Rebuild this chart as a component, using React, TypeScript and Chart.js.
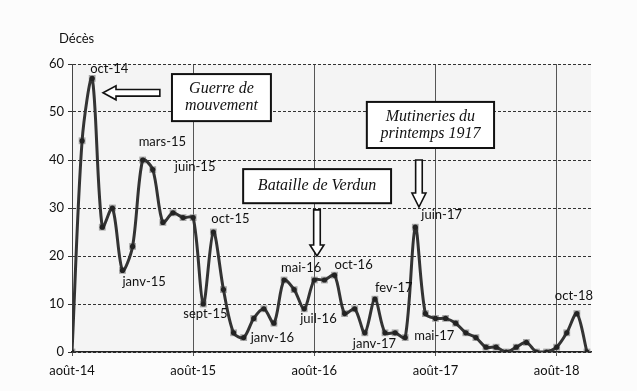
import React, { useEffect, useRef } from "react";
import { Chart, registerables } from "chart.js";
Chart.register(...registerables);

const MONTH_NAMES = ["août", "sept", "oct", "nov", "déc", "janv", "févr", "mars", "avr", "mai", "juin", "juil"];
const START_YEAR = 14;
const MONTHS: string[] = Array.from({ length: 52 }, (_, i) => {
  const m = i % 12;
  const yr = START_YEAR + Math.floor((i + 7) / 12);
  return `${MONTH_NAMES[m]}-${yr}`;
});

const DEATHS = [
  0, 44, 57, 26, 30, 17, 22, 40, 38, 27,
  29, 28, 28, 10, 25, 13, 4, 3, 7, 9,
  6, 15, 13, 9, 15, 15, 16, 8, 9, 4,
  11, 4, 4, 3, 26, 8, 7, 7, 6, 4,
  3, 1, 1, 0, 1, 2, 0, 0, 1, 4,
  8, 0,
];

const Y_TICKS = [0, 10, 20, 30, 40, 50, 60];
const Y_TITLE = "Décès";

const POINT_LABELS = [
  { i: 2, text: "oct-14" },
  { i: 7, text: "mars-15" },
  { i: 8, text: "juin-15" },
  { i: 5, text: "janv-15" },
  { i: 13, text: "sept-15" },
  { i: 14, text: "oct-15" },
  { i: 17, text: "janv-16" },
  { i: 21, text: "mai-16" },
  { i: 23, text: "juil-16" },
  { i: 26, text: "oct-16" },
  { i: 30, text: "fev-17" },
  { i: 29, text: "janv-17" },
  { i: 33, text: "mai-17" },
  { i: 34, text: "juin-17" },
  { i: 50, text: "oct-18" },
];

// label offsets (px) relative to the anchored point, left-aligned text
const LABEL_OFFSETS: Record<number, [number, number]> = {
  2: [-2, -10], 7: [-4, -18], 8: [22, -3], 5: [0, 11], 13: [-20, 10],
  14: [-2, -13], 17: [7, 0], 21: [-3, -12], 23: [-4, 10], 26: [0, -10],
  30: [0, -11], 29: [-12, 11], 33: [9, -2], 34: [6, -12], 50: [-22, -18],
};

const ANNOTATION_TEXTS = [["Guerre de", "mouvement"], ["Bataille de Verdun"], ["Mutineries du", "printemps 1917"]];
// boxes in data coordinates (x index, y value)
const BOXES = [
  { x0: 9.9, x1: 19.7, y0: 57.9, y1: 48.1 },
  { x0: 16.95, x1: 31.6, y0: 38.1, y1: 31.0 },
  { x0: 29.2, x1: 41.8, y0: 52.1, y1: 42.5 },
];
const ARROWS = [
  { tx: 8.7, ty: 54.0, px: 3.07, py: 54.0, hl: 13 },
  { tx: 24.26, ty: 29.6, px: 24.26, py: 20.0, hl: 11 },
  { tx: 34.36, ty: 40.0, px: 34.36, py: 30.2, hl: 14 },
];

const LABEL_FONT = "13px Lato";
const BOX_FONT = "italic 16px 'Liberation Serif'";

const decor = {
  id: "decor",
  beforeDraw(chart: any) {
    const { ctx, chartArea: a, width, height } = chart;
    ctx.save();
    ctx.fillStyle = "#fcfcfc";
    ctx.fillRect(0, 0, width, height);
    ctx.fillStyle = "#f4f4f4";
    ctx.fillRect(a.left, a.top, a.right - a.left, a.bottom - a.top);
    ctx.restore();
  },
  afterDraw(chart: any) {
    const { ctx } = chart;
    const xs = chart.scales.x;
    const ys = chart.scales.y;
    ctx.save();
    // title
    ctx.font = "13px Lato";
    ctx.fillStyle = "#111";
    ctx.textAlign = "left";
    ctx.textBaseline = "middle";
    ctx.fillText(Y_TITLE, 59, 39);

    // point labels
    ctx.font = LABEL_FONT;
    POINT_LABELS.forEach((l) => {
      const px = xs.getPixelForValue(l.i);
      const py = ys.getPixelForValue(DEATHS[l.i]);
      const [dx, dy] = LABEL_OFFSETS[l.i];
      ctx.fillText(l.text, px + dx, py + dy);
    });

    // boxes
    BOXES.forEach((b, k) => {
      const x0 = xs.getPixelForValue(b.x0);
      const x1 = xs.getPixelForValue(b.x1);
      const y0 = ys.getPixelForValue(b.y0);
      const y1 = ys.getPixelForValue(b.y1);
      ctx.fillStyle = "#ffffff";
      ctx.fillRect(x0, y0, x1 - x0, y1 - y0);
      ctx.strokeStyle = "#111";
      ctx.lineWidth = 2;
      ctx.strokeRect(x0, y0, x1 - x0, y1 - y0);
      ctx.fillStyle = "#111";
      ctx.font = BOX_FONT;
      ctx.textAlign = "center";
      const lines = ANNOTATION_TEXTS[k];
      const cx = (x0 + x1) / 2;
      const cy = (y0 + y1) / 2;
      lines.forEach((t, j) => {
        ctx.fillText(t, cx, cy + (j - (lines.length - 1) / 2) * 17);
      });
    });

    // arrows
    ARROWS.forEach((ar) => {
      const tx = xs.getPixelForValue(ar.tx);
      const ty = ys.getPixelForValue(ar.ty);
      const px = xs.getPixelForValue(ar.px);
      const py = ys.getPixelForValue(ar.py);
      const len = Math.hypot(px - tx, py - ty);
      const dx = (px - tx) / len;
      const dy = (py - ty) / len;
      const nx = -dy;
      const ny = dx;
      const sw = 3.3;
      const hw = 7;
      const bx = px - dx * ar.hl;
      const by = py - dy * ar.hl;
      ctx.beginPath();
      ctx.moveTo(tx + nx * sw, ty + ny * sw);
      ctx.lineTo(bx + nx * sw, by + ny * sw);
      ctx.lineTo(bx + nx * hw, by + ny * hw);
      ctx.lineTo(px, py);
      ctx.lineTo(bx - nx * hw, by - ny * hw);
      ctx.lineTo(bx - nx * sw, by - ny * sw);
      ctx.lineTo(tx - nx * sw, ty - ny * sw);
      ctx.closePath();
      ctx.fillStyle = "#ffffff";
      ctx.fill();
      ctx.strokeStyle = "#111";
      ctx.lineWidth = 1.6;
      ctx.stroke();
    });
    ctx.restore();
  },
};

export default function App() {
  const ref = useRef<HTMLCanvasElement | null>(null);
  useEffect(() => {
    if (!ref.current) return;
    const points = DEATHS.map((v, i) => ({ x: i, y: v }));
    const chart = new Chart(ref.current, {
      type: "line",
      data: {
        datasets: [
          {
            data: points,
            borderColor: "#333",
            borderWidth: 3,
            tension: 0.3,
            pointRadius: 2.6,
            pointBackgroundColor: "#222",
            pointBorderWidth: 0,
            order: 1,
          },
          {
            data: points,
            showLine: false,
            pointStyle: "rect",
            pointRadius: 4.8,
            pointBackgroundColor: "rgba(140,140,140,0.75)",
            pointBorderWidth: 0,
            order: 2,
          },
        ],
      },
      options: {
        responsive: false,
        animation: false,
        layout: { padding: { left: 0, right: 46, top: 64, bottom: 0 } },
        plugins: { legend: { display: false }, tooltip: { enabled: false }, title: { display: false } },
        scales: {
          x: {
            type: "linear",
            min: 0,
            max: 51.4,
            afterFit: (s: any) => { s.height = 39; },
            ticks: {
              stepSize: 12,
              includeBounds: false,
              autoSkip: false,
              maxRotation: 0,
              padding: 7,
              color: "#111",
              font: { family: "Lato", size: 13 },
              callback: (v: any) => (Number.isInteger(v) ? MONTHS[v] : ""),
            },
            grid: { color: "#555", lineWidth: 1, tickLength: 4 },
            border: { display: true, color: "#222", width: 1.5 },
          },
          y: {
            min: 0,
            max: 60,
            afterFit: (s: any) => { s.width = 72; },
            afterBuildTicks: (s: any) => { s.ticks = Y_TICKS.map((v) => ({ value: v })); },
            ticks: {
              padding: 4,
              color: "#111",
              font: { family: "Lato", size: 13 },
            },
            grid: { color: "#333", lineWidth: 1, tickLength: 4 },
            border: { display: true, color: "#444", width: 1, dash: [3, 2] },
          },
        },
      },
      plugins: [decor],
    } as any);
    return () => chart.destroy();
  }, []);
  return (
    <div style={{ position: "fixed", left: 0, top: 0, width: 637, height: 391 }}>
      <canvas ref={ref} width={637} height={391} />
    </div>
  );
}
